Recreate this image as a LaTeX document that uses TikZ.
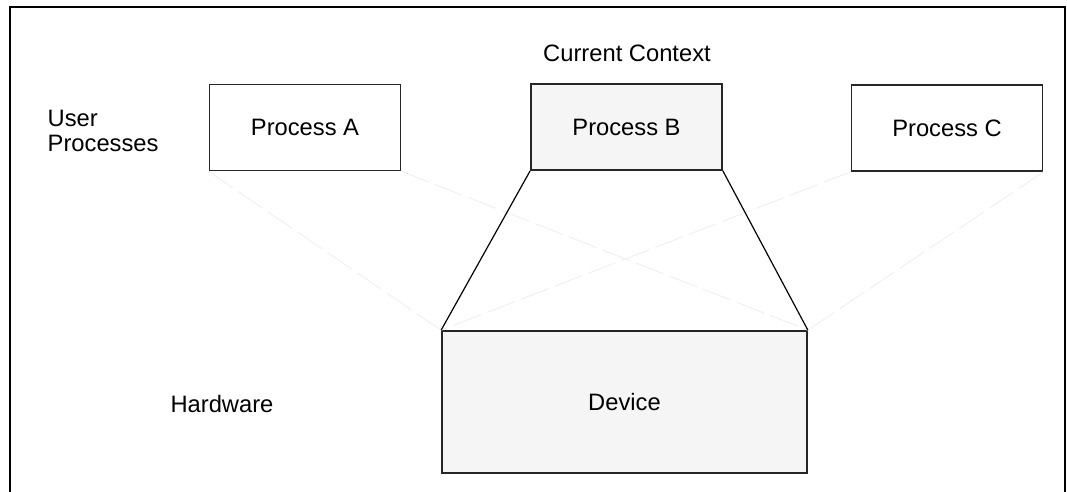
\documentclass[tikz,border=0pt]{standalone}
\usepackage{fontspec}
\setmainfont{Liberation Sans}
\begin{document}
\begin{tikzpicture}
    [
    x=0.75pt,y=-0.75pt,
    every node/.style={font=\fontsize{17.8}{22}\selectfont},
    procbox/.style={draw=black!85,line width=1.3pt,inner sep=0pt,minimum width=143.25pt,minimum height=64.5pt},
    devbox/.style={draw=black!85,line width=1.3pt,fill=black!4,inner sep=0pt,minimum width=273.75pt,minimum height=106.5pt},
    faint/.style={draw=black!6,line width=0.8pt,dash pattern=on 22pt off 5pt},
    link/.style={draw=black,line width=0.9pt}
    ]
    \useasboundingbox (0,0) rectangle (1067,492);
    \draw [line width=1.4pt] (10,492) |- (1065,7) -- (1065,492);
    \node (procA) at (305,127.5) [procbox] {Process A};
    \node (procB) at (626.5,127) [procbox,fill=black!4] {Process B};
    \node (procC) at (947,128) [procbox] {Process C};
    \node (dev) at (624.5,402) [devbox] {Device};
    \node (ctx) at (627,53) {Current Context};
    \node (user) at (43,131) [anchor=west,align=left] {User\\[-3pt]Processes};
    \node (hw) at (222,404) {Hardware};
    \draw [faint] (procA.south west) to (dev.north west);
    \draw [faint] (procA.south east) to (dev.north east);
    \draw [faint] (procC.south west) to (dev.north west);
    \draw [faint] (procC.south east) to (dev.north east);
    \draw [link] (procB.south west) to (dev.north west);
    \draw [link] (procB.south east) to (dev.north east);
  \end{tikzpicture}
\end{document}
